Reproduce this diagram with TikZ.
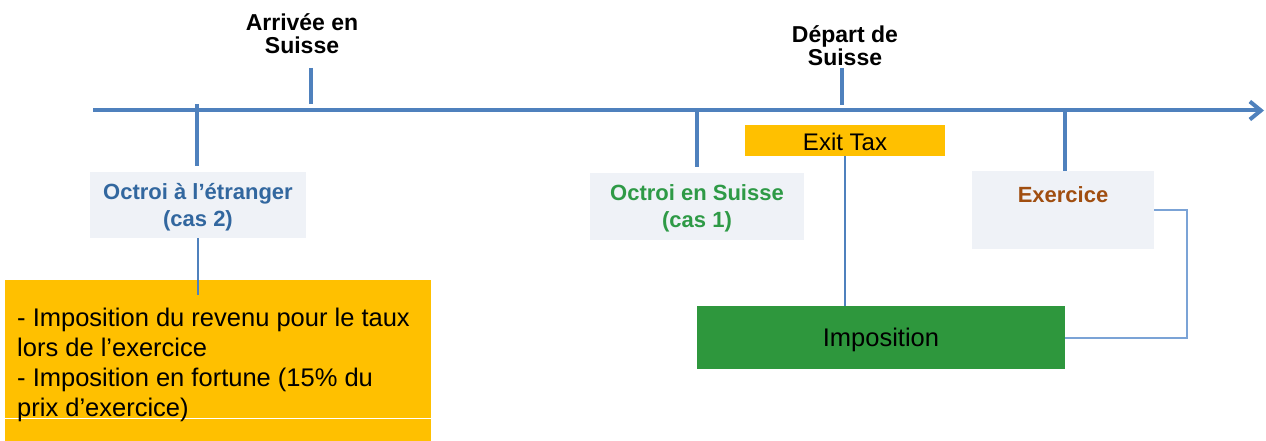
\documentclass[tikz,border=0pt]{standalone}
\usepackage{fontspec}
\setmainfont{Liberation Sans}
\usetikzlibrary{arrows.meta}
\definecolor{tlblue}{HTML}{4F81BD}
\definecolor{lightblue}{HTML}{7BA3D6}
\definecolor{boxgray}{HTML}{EFF2F7}
\definecolor{orangefill}{HTML}{FFC000}
\definecolor{greenfill}{HTML}{2E973D}
\definecolor{txtblue}{HTML}{32679F}
\definecolor{txtgreen}{HTML}{2E9A46}
\definecolor{txtbrown}{HTML}{A04E10}
\tikzset{
  tick/.style={draw=tlblue, line width=4pt},
  conn/.style={draw=tlblue, line width=2pt},
  thinconn/.style={draw=lightblue, line width=1.5pt},
  graybox/.style={fill=boxgray, draw=none, inner sep=0pt},
  boldlbl/.style={font=\bfseries\fontsize{22}{27}\selectfont, align=center, inner sep=0pt},
  toplbl/.style={font=\bfseries\fontsize{23}{23}\selectfont, align=center, inner sep=0pt, text=black},
}
\begin{document}
\begin{tikzpicture}[x=1pt,y=-1pt]
\useasboundingbox (0,0) rectangle (1266,441);
% timeline
\coordinate (tlstart) at (93,110.5);
\coordinate (tlend) at (1264,110.5);
\draw[draw=tlblue, line width=4pt, -{Straight Barb[length=11pt,width=18pt,line width=4pt]}] (tlstart) -- (tlend);
% ticks
\coordinate (t1a) at (197,104); \coordinate (t1b) at (197,166);
\coordinate (t2a) at (311,68);  \coordinate (t2b) at (311,104);
\coordinate (t3a) at (697,110); \coordinate (t3b) at (697,167);
\coordinate (t4a) at (842,68);  \coordinate (t4b) at (842,105);
\coordinate (t5a) at (1065,110);\coordinate (t5b) at (1065,171);
\draw[tick] (t1a) -- (t1b);
\draw[tick] (t2a) -- (t2b);
\draw[tick] (t3a) -- (t3b);
\draw[tick] (t4a) -- (t4b);
\draw[tick] (t5a) -- (t5b);
% top labels
\node[toplbl] (arr) at (302,33.5) {Arrivée en\\Suisse};
\node[toplbl] (dep) at (845,45.5) {Départ de\\Suisse};
% gray boxes
\node[graybox, minimum width=216pt, minimum height=66pt] (octe) at (198,205) {};
\node[boldlbl, text=txtblue] (octetxt) at (198,207) {Octroi à l’étranger\\(cas 2)};
\node[graybox, minimum width=214pt, minimum height=67pt] (octs) at (697,206.5) {};
\node[boldlbl, text=txtgreen] (octstxt) at (697,208) {Octroi en Suisse\\(cas 1)};
\node[graybox, minimum width=182pt, minimum height=78pt] (exbox) at (1063,210) {};
\node[boldlbl, text=txtbrown] (extxt) at (1063,195) {Exercice};
% exit tax
\node[fill=orangefill, inner sep=0pt, minimum width=200pt, minimum height=31pt,
      font=\fontsize{24}{28}\selectfont] (exit) at (845,140.5) {};
\node[inner sep=0pt, font=\fontsize{24}{28}\selectfont] (exittxt) at (845,141.5) {Exit Tax};
% imposition
\node[fill=greenfill, inner sep=0pt, minimum width=368pt, minimum height=63pt] (impo) at (881,337.5) {};
\node[inner sep=0pt, font=\fontsize{25.5}{30}\selectfont] (impotxt) at (881,339.5) {Imposition};
% orange box
\node[fill=orangefill, inner sep=0pt, minimum width=426pt, minimum height=161pt] (obox) at (218,360.5) {};
\coordinate (wl1) at (5,418); \coordinate (wl2) at (431,418);
\draw[white, line width=1pt] (wl1) -- (wl2);
\node[anchor=north west, inner sep=0pt, align=left, font=\fontsize{25.5}{30}\selectfont] (otxt) at (17,308)
 {- Imposition du revenu pour le taux\\lors de l’exercice\\- Imposition en fortune (15\% du\\prix d’exercice)};
% connectors
\coordinate (oc1) at (198,295);
\draw[conn] (octe.south) -- (oc1);
\draw[conn] (exit.south) -- (exit.south |- impo.north);
\coordinate (ec1) at (1187,210);
\coordinate (ec2) at (1187,338);
\draw[thinconn] (exbox.east) -- (ec1) -- (ec2) -- (impo.east |- ec2);
\end{tikzpicture}
\end{document}
